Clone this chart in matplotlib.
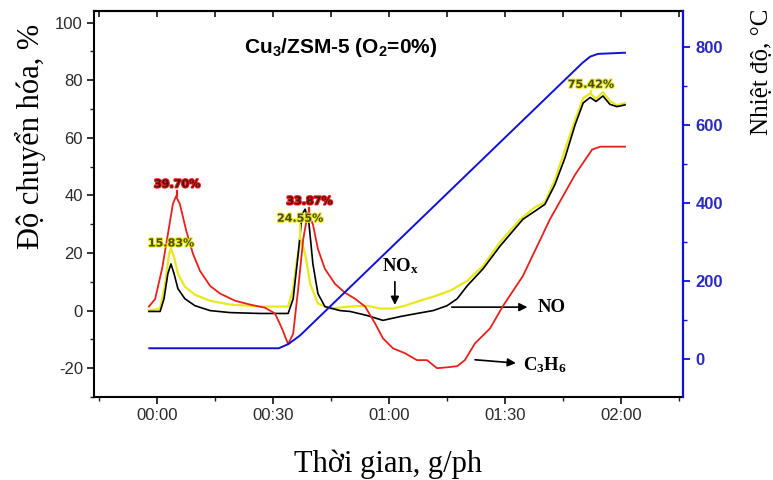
import matplotlib
matplotlib.use("Agg")
import matplotlib.pyplot as plt
import matplotlib.patheffects as pe
from matplotlib.ticker import MultipleLocator, FuncFormatter

plt.rcParams['mathtext.default'] = 'regular'
plt.rcParams['axes.unicode_minus'] = False

# thoi gian (phut) va do chuyen hoa (%) doc tu hinh
t_c3h6 = [-2.1, -0.5, 1.3, 2.8, 4.1, 4.9, 5.9, 7.5, 9.3, 11.1, 13.7, 16.3, 20.2, 24.0, 27.9,
          30.5, 32.3, 33.9, 35.2, 36.5, 37.8, 39.0, 40.3, 41.6, 43.4, 46.0, 48.6, 51.2, 53.8,
          56.4, 58.4, 61.0, 64.1, 67.2, 69.8, 72.4, 75.0, 77.6, 79.6, 82.2, 86.1, 89.5, 94.6,
          101.6, 108.1, 112.5, 114.6, 121.0]
v_c3h6 = [1.4, 4.0, 14.5, 26.5, 37.0, 39.7, 37.0, 28.0, 19.7, 13.8, 8.6, 5.9, 3.4, 2.1, 1.0,
          -1.0, -6.2, -11.7, -8.0, 7.6, 24.8, 33.87, 30.0, 21.4, 14.5, 9.3, 6.2, 4.1, 1.4,
          -4.5, -9.6, -13.1, -14.8, -17.2, -17.2, -20.0, -19.7, -19.3, -17.2, -11.4, -6.2, 1.7, 12.0,
          31.7, 47.2, 55.9, 56.9, 56.9]

t_no = [-2.1, 0.8, 1.8, 2.8, 3.6, 4.4, 5.4, 7.2, 9.8, 13.7, 18.9, 26.6, 33.9, 35.2, 36.5,
        37.5, 38.3, 39.3, 40.3, 41.6, 43.4, 47.3, 49.9, 54.3, 58.4, 62.8, 67.2, 71.4, 75.0,
        77.6, 80.2, 84.3, 88.7, 94.6, 97.7, 100.3, 102.9, 105.5, 108.1, 110.2, 112.0, 113.5,
        115.3, 117.1, 118.9, 121.0]
v_no = [-0.3, -0.3, 4.1, 12.8, 16.2, 12.8, 7.6, 4.1, 1.7, 0.0, -0.7, -1.0, -1.0, 4.1, 19.7,
        33.4, 35.2, 30.0, 16.2, 5.9, 1.4, 0.0, -0.3, -1.7, -3.4, -2.1, -1.0, 0.0, 1.7,
        4.1, 8.6, 14.5, 22.4, 31.7, 34.5, 36.9, 43.8, 53.1, 64.5, 72.1, 74.0, 72.6,
        74.5, 71.6, 70.8, 71.4]

t_nox = [-2.1, 0.8, 2.1, 3.1, 3.6, 4.4, 5.4, 7.2, 9.8, 13.7, 18.9, 26.6, 33.9, 35.2, 36.2,
         37.2, 38.3, 39.6, 41.6, 44.7, 49.9, 54.3, 57.7, 61.0, 64.1, 67.2, 71.4, 75.8, 80.2,
         84.3, 88.7, 93.9, 97.7, 100.3, 102.9, 105.5, 108.1, 110.2, 112.0, 113.5, 115.3,
         117.1, 118.9, 121.0]
v_nox = [0.0, 0.7, 9.3, 19.7, 21.5, 18.6, 12.8, 8.3, 5.5, 3.4, 2.1, 1.4, 1.4, 7.6, 17.9,
         24.8, 19.7, 9.3, 2.4, 0.7, 1.4, 1.7, 0.7, 0.7, 1.7, 3.1, 4.8, 6.9, 10.3,
         15.5, 23.8, 31.7, 35.9, 37.6, 45.5, 55.9, 66.2, 73.8, 75.4, 73.6, 75.8,
         72.8, 71.3, 72.0]

# nhiet do (do C)
t_temp = [-2.0, 31.5, 34.0, 37.0, 110.0, 112.0, 114.0, 121.0]
v_temp = [27, 27, 38, 60, 759, 775, 782, 785]

peak_labels = ['39.70%', '15.83%', '33.87%', '24.55%', '75.42%']
peak_t = [5.2, 3.6, 39.4, 37.0, 112.2]
peak_v = [43.8, 23.3, 37.9, 31.9, 78.4]
peak_tip = [39.7, 20.5, 34.0, 25.0, 75.6]
peak_col = ['red', 'yellow', 'red', 'yellow', 'yellow']

red = '#e8201c'
yel = '#e8e81a'
blue = '#1010d8'

fig = plt.figure(figsize=(7.73, 4.8), dpi=100)
ax = fig.add_axes([94 / 773, 1 - 397 / 480, 589 / 773, 386 / 480])
ax2 = ax.twinx()

ax.plot(t_nox, v_nox, color=yel, lw=1.6, zorder=3)
ax.plot(t_no, v_no, color='black', lw=1.2, zorder=4)
ax.plot(t_c3h6, v_c3h6, color=red, lw=1.3, zorder=5)
ax2.plot(t_temp, v_temp, color=blue, lw=1.4)

ax.set_xlim(-16.3, 136)
ax.set_ylim(-30, 104)
ax2.set_ylim(-98, 892)

ax.xaxis.set_major_locator(MultipleLocator(30))
ax.xaxis.set_minor_locator(MultipleLocator(15))
ax.xaxis.set_major_formatter(FuncFormatter(lambda v, p: '%02d:%02d' % (int(v // 60), int(v % 60))))
ax.yaxis.set_major_locator(MultipleLocator(20))
ax.yaxis.set_minor_locator(MultipleLocator(10))
ax2.yaxis.set_major_locator(MultipleLocator(200))
ax2.yaxis.set_minor_locator(MultipleLocator(100))

tick_font = dict(family='Liberation Sans', size=12)
ax.tick_params(which='major', direction='out', length=5, width=1.3, color='#222222',
               labelcolor='#2a2a2a', pad=3)
ax.tick_params(which='minor', direction='out', length=3, width=1.0, color='#222222')
ax2.tick_params(which='major', direction='out', length=5, width=1.3, color=blue,
                labelcolor='#2a2ac0', pad=4)
ax2.tick_params(which='minor', direction='out', length=3, width=1.0, color=blue)
for lab in ax.get_xticklabels() + ax.get_yticklabels():
    lab.set_fontproperties(tick_font)
for lab in ax2.get_yticklabels():
    lab.set_fontproperties(tick_font)
    lab.set_fontweight('bold')

# vach tren cung huong vao trong
top = ax.secondary_xaxis('top')
top.xaxis.set_major_locator(MultipleLocator(30))
top.xaxis.set_minor_locator(MultipleLocator(15))
top.tick_params(which='both', direction='in', length=4, width=1.1, labeltop=False)

for s in ['left', 'bottom', 'top']:
    ax.spines[s].set_linewidth(1.5)
top.spines['top'].set_linewidth(1.5)
ax.spines['right'].set_visible(False)
ax2.spines['right'].set_color(blue)
ax2.spines['right'].set_linewidth(1.6)
for s in ['left', 'bottom', 'top']:
    ax2.spines[s].set_visible(False)

serif = 'Liberation Serif'
ax.set_xlabel('Thời gian, g/ph', family=serif, size=22, labelpad=19)
fig.text(30 / 773, 1 - 136 / 480, 'Độ chuyển hóa, %', family=serif, size=22,
         rotation=90, ha='center', va='center')
fig.text(762 / 773, 1 - 72 / 480, 'Nhiệt độ, °C', family=serif, size=18,
         rotation=90, ha='center', va='center')

ax.text(47.6, 91.4, 'Cu$_3$/ZSM-5 (O$_2$=0%)', family='Liberation Sans', weight='bold',
        size=15, ha='center', va='center')

# nhan dinh
for lab, tx, vy, tip, c in zip(peak_labels, peak_t, peak_v, peak_tip, peak_col):
    fg = '#5a1010' if c == 'red' else '#4a4a10'
    ec = red if c == 'red' else yel
    ax.plot([tx, tx], [vy - 2.2, tip], color=ec, lw=1.6, zorder=6)
    ax.text(tx, vy, lab, family='DejaVu Sans', weight='bold', size=8, color=fg,
            ha='center', va='center', zorder=7,
            path_effects=[pe.withStroke(linewidth=1.5, foreground=ec)])

serif_b = dict(family=serif, weight='bold', size=13.5)
ax.annotate('', xy=(96.5, 1.2), xytext=(75.5, 1.2),
            arrowprops=dict(arrowstyle='-|>', color='black', lw=1.2, mutation_scale=12))
ax.text(98.5, 1.2, 'NO', va='center', ha='left', **serif_b)
ax.annotate('', xy=(61.5, 1.0), xytext=(61.5, 11),
            arrowprops=dict(arrowstyle='-|>', color='black', lw=1.2, mutation_scale=12))
ax.text(63.0, 15.5, 'NO$_x$', va='center', ha='center', **serif_b)
ax.annotate('', xy=(93.5, -18.3), xytext=(81.5, -17.0),
            arrowprops=dict(arrowstyle='-|>', color='black', lw=1.2, mutation_scale=12))
ax.text(94.5, -19.0, 'C$_3$H$_6$', va='center', ha='left', **serif_b)

fig.savefig('out.png', dpi=100)
